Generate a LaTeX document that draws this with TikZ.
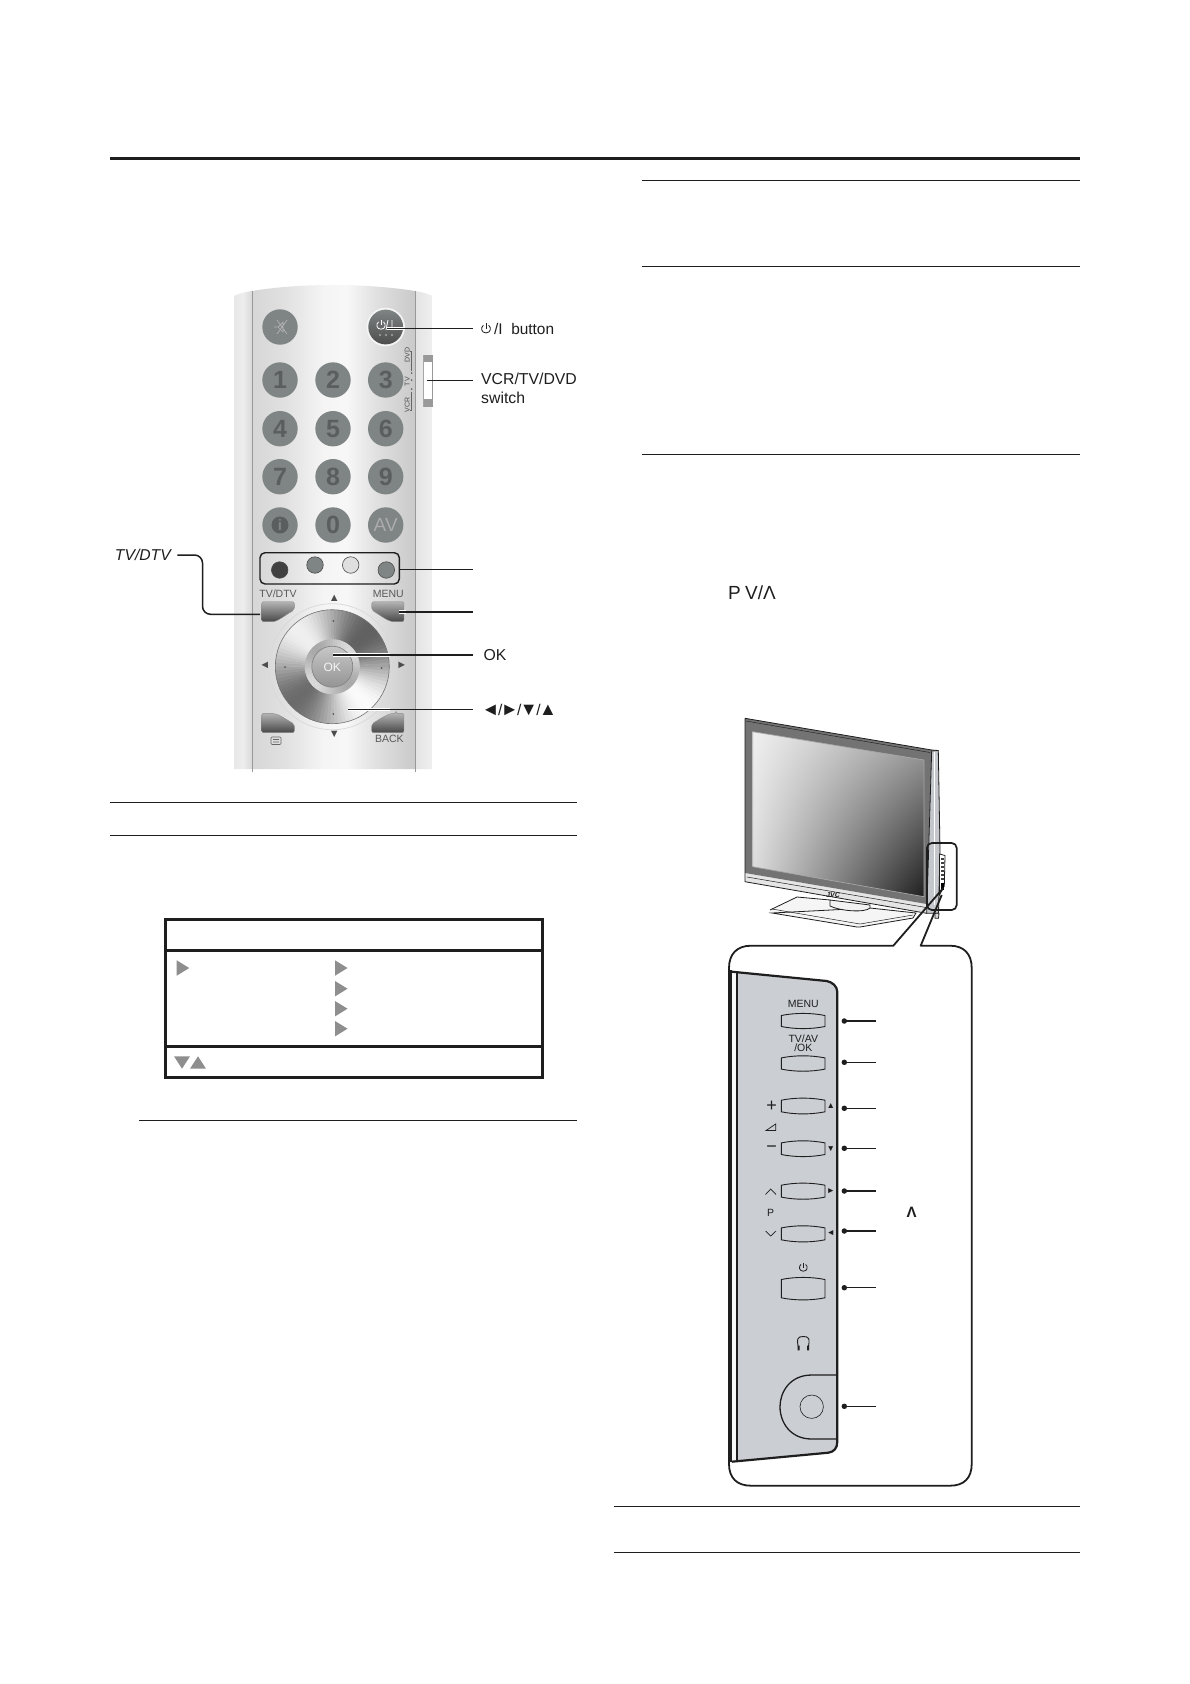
\documentclass[tikz,border=0pt]{standalone}
\usepackage{fontspec}
\setmainfont{Liberation Sans}
\usetikzlibrary{shadings,calc}
\definecolor{ink}{HTML}{1E1E1E}
\definecolor{keyg}{HTML}{7F8484}
\definecolor{keyd}{HTML}{5A5E5E}
\definecolor{panelg}{HTML}{CBCED3}
\definecolor{trig}{HTML}{8E8E8E}
\definecolor{sideg}{HTML}{C4C8CC}
\pgfdeclarehorizontalshading{remotebody}{100bp}{
 color(0bp)=(gray!32!white); color(25bp)=(gray!32!white);
 color(35bp)=(gray!24!white); color(47bp)=(gray!8!white); color(54bp)=(gray!6!white);
 color(63bp)=(gray!24!white); color(75bp)=(gray!42!white); color(100bp)=(gray!42!white)}
\pgfdeclarehorizontalshading{bandl}{100bp}{
 color(0bp)=(gray!18!white); color(25bp)=(gray!18!white); color(50bp)=(gray!14!white);color(75bp)=(gray!30!white); color(100bp)=(gray!30!white)}
\tikzset{
 rulethin/.style={draw=ink,line width=1.1pt},
 ruletable/.style={draw=ink,line width=3pt},
 lead/.style={draw=ink,line width=1.5pt},
 halo/.style={draw=white,line width=3.4pt},
 rlabel/.style={inner sep=0pt,anchor=west,font=\fontsize{15.8}{18}\selectfont,text=ink},
 keybtn/.style={circle,fill=keyg,minimum size=35.4pt,inner sep=0pt,text=keyd,font=\fontsize{25}{25}\selectfont\bfseries},
 colbtn/.style={circle,draw=black!70,line width=.6pt,minimum size=16.5pt,inner sep=0pt},
 tiny/.style={inner sep=0pt,text=black!65,font=\fontsize{10.5}{11}\selectfont},
 softkey/.style={shading angle=60,top color=gray!60!white,bottom color=black!72,draw=black!45,line width=.4pt,rounded corners=2pt},
 softkeyb/.style={shading angle=-60,top color=gray!60!white,bottom color=black!72,draw=black!45,line width=.4pt,rounded corners=2pt},
 pbtn/.style={draw=ink,line width=.9pt,fill=panelg},
 plabel/.style={inner sep=0pt,text=ink,font=\fontsize{10.5}{11}\selectfont},
 pdot/.style={circle,fill=ink,inner sep=0pt,minimum size=5.5pt},
 pline/.style={draw=ink,line width=1.4pt},
 tritab/.style={fill=trig},
 tvline/.style={draw=ink,line width=.8pt},
}
\newcommand{\pwrsym}[3]{%
 \draw[line width=.8pt,#3] ($(#1)+(-.62*#2,-.78*#2)$) .. controls ($(#1)+(-1.3*#2,-.3*#2)$) and ($(#1)+(-1.2*#2,1.05*#2)$) .. ($(#1)+(0,1.05*#2)$)
   .. controls ($(#1)+(1.2*#2,1.05*#2)$) and ($(#1)+(1.3*#2,-.3*#2)$) .. ($(#1)+(.62*#2,-.78*#2)$);
 \draw[line width=.8pt,#3] ($(#1)+(0,-1.25*#2)$) -- ($(#1)+(0,.1*#2)$);}
\newcommand{\panelkey}[2]{%
 \draw[pbtn] (781.3,#1+2.2) .. controls (795,#1-.6) and (811,#1-.6) .. (825,#1+2.2) -- (825,#2-2.2)
  .. controls (811,#2+.6) and (795,#2+.6) .. (781.3,#2-2.2) -- cycle;}
\begin{document}
\begin{tikzpicture}[x=1pt,y=-1pt]
\useasboundingbox (0,0) rectangle (1190,1684);
\fill[white] (0,0) rectangle (1190,1684);
% page rules
\draw[ink,line width=3pt] (110,158) -- (1080,158);
\foreach \xa/\xb/\yy in {642/1080/180.5,642/1080/266.5,642/1080/454.5,110/577/802.3,110/577/835.3,139/577/1120.3,614/1080/1506.3,614/1080/1552.3}
 \draw[rulethin] (\xa,\yy) -- (\xb,\yy);
% ---------- remote body
\shade[shading=remotebody] (252,291) .. controls (300,283) and (365,283) .. (415,291) -- (415,769) -- (252,769) -- cycle;
\shade[shading=bandl] (234,296) .. controls (238,294) and (245,292) .. (252,291) -- (252,769) -- (234,769) -- cycle;
\shade[left color=gray!22!white,right color=gray!12!white] (415,291) .. controls (422,292) and (428,294) .. (432.7,296) -- (432.7,769) -- (415,769) -- cycle;
\draw[gray!80!white,line width=.9pt] (252,291) -- (252,772) (415,291) -- (415,772);
% keys
\node[keybtn] (kmute) at (280,327) {};
\draw[black!30,line width=.7pt] (274,327) -- (278,327) -- (283,322) -- (283,332) -- (278,327) (277,320) -- (287,334) (287,320) -- (277,334);
\node[circle,fill=white!92!gray,minimum size=38.5pt,inner sep=0pt] (kpowring) at (385.7,327) {};
\shade[top color=keyg,bottom color=black!70] (385.7,327) circle[radius=17.4pt];
\pwrsym{381,325}{4}{white!88}
\draw[white!88,line width=.8pt] (388,320) -- (386,330) (392,320) -- (392,330);
\foreach \xx in {380,386,392} \fill[black!35] (\xx,335) circle[radius=1.1pt];
\foreach \nn/\xx/\yy/\tt in {k1/280/380/1,k2/333/380/2,k3/385.7/380/3,k4/280/428.7/4,k5/333/428.7/5,k6/385.7/428.7/6,k7/280/476.7/7,k8/333/476.7/8,k9/385.7/476.7/9,k0/333/525/0}
 \node[keybtn] (\nn) at (\xx,\yy) {\tt};
\node[keybtn] (kinfo) at (280,525) {};
\fill[keyd] (280,525) circle[radius=8.5pt];
\node[inner sep=0pt,text=keyg,font=\fontsize{15}{15}\selectfont\bfseries] (kinfot) at (280,525) {i};
\node[keybtn,text=black!33,font=\fontsize{19}{19}\selectfont] (kav) at (385.7,525) {AV};
% colour keys
\draw[ink,line width=1.4pt,rounded corners=5pt] (260,552.7) rectangle (399.3,584);
\node[colbtn,fill=black!75] (cred) at (279.7,570) {};
\node[colbtn,fill=keyg] (cgreen) at (315,565) {};
\node[colbtn,fill=gray!25!white] (cyellow) at (350.7,565) {};
\node[colbtn,fill=keyg] (cblue) at (386.3,570) {};
% soft keys
\shade[softkey] (261.7,601.7) -- (294.3,601.7) -- (294.3,610) .. controls (285,615) and (278,621.7) .. (270,621.7) -- (261.7,621.7) -- cycle;
\shade[softkeyb] (371.7,601.7) -- (404,601.7) -- (404,621.7) -- (396,621.7) .. controls (388,621.7) and (380,615) .. (371.7,610) -- cycle;
\shade[softkey] (261.7,713.3) -- (270,713.3) .. controls (278,713.3) and (285,719) .. (294.3,724) -- (294.3,732.7) -- (261.7,732.7) -- cycle;
\shade[softkeyb] (396,713.3) -- (404,713.3) -- (404,732.7) -- (371.7,732.7) -- (371.7,724) .. controls (380,719) and (388,713.3) .. (396,713.3) -- cycle;
\node[tiny] (tkdtv) at (278,594) {TV/DTV};
\node[tiny] (tkmenu) at (388.3,594) {MENU};
\node[tiny] (tkback) at (389.3,739.3) {BACK};
\draw[black!60,line width=.6pt,rounded corners=1pt] (271,737) rectangle (281,744.5) (273,739.5) -- (279,739.5) (273,742) -- (279,742);
\foreach \nn/\xx/\yy/\tt in {aN/334.3/598.3/▲,aW/264.7/665.7/◄,aE/401.7/665.7/►,aS/334.3/734.3/▼}
 \node[inner sep=0pt,text=black!70,font=\fontsize{11}{11}\selectfont] (\nn) at (\xx,\yy) {\tt};
% d-pad
\coordinate (dp) at (332.3,666.7);
\draw[gray!30!white,line width=.7pt] (dp) circle[radius=63pt];
\foreach \a in {0,4,...,356}{
 \pgfmathsetmacro\g{0.68+0.28*cos(2*\a+270)+0.03*sin(\a)}
 \definecolor{dpc}{gray}{\g}
 \fill[dpc] (dp) -- +(\a:57) -- +(\a+4.6:57) -- cycle;}
\draw[black!55,line width=.6pt] (dp) circle[radius=57pt];
\foreach \a in {0,4,...,356}{
 \pgfmathsetmacro\g{0.76-0.10*cos(2*\a+270)}
 \definecolor{dpc}{gray}{\g}
 \fill[dpc] (dp) -- +(\a:27.5) -- +(\a+4.6:27.5) -- cycle;}
\shade[top color=black!22,bottom color=black!42] (dp) circle[radius=20.5pt];
\draw[black!50,line width=.6pt] (dp) circle[radius=20.5pt];
\node[inner sep=0pt,text=white!92!gray,font=\fontsize{12}{12}\selectfont] (tok) at (332.3,667.5) {OK};
\foreach \xx/\yy in {333.3/621,381.7/668,333.3/714,285/667}
 \fill[black!65] (\xx,\yy) circle[radius=1pt];
% switch
\fill[gray!80!white] (423.3,355) rectangle (432.7,406.7);
\fill[white] (424.3,362) rectangle (432.2,398.5);
\draw[gray!70!white,line width=.5pt] (423.3,355) -- (423.3,406.7);
\foreach \nn/\yy/\tt in {sd/355/DVD,st/381.7/TV,sv/405/VCR}
 \node[inner sep=0pt,rotate=90,text=black!70,font=\fontsize{7}{7}\selectfont] (\nn) at (407.3,\yy) {\tt};
\draw[black!60,line width=.5pt] (410,351) -- (411.7,351) -- (411.7,371) (411.7,392) -- (411.7,410) -- (410,410);
\fill[black!70] (411.7,373) circle[radius=.8pt] (411.7,380) circle[radius=.8pt] (411.7,389) circle[radius=.8pt];
% remote labels + leaders
\begin{scope}
\clip (440,300) rectangle (576,420);
\node[rlabel] (lvcr) at (481,378.7) {VCR/TV/DVD};
\node[rlabel] (lsw) at (481,398) {switch};
\end{scope}
\pwrsym{486,328.5}{4.2}{ink}
\node[rlabel,font=\fontsize{15.4}{18}\selectfont] (lbtn) at (494,328.5) {/I\hspace{8.5pt}button};
\node[rlabel] (lok) at (483.3,655) {OK};
\node[rlabel,font=\fontsize{18}{18}\selectfont] (larr) at (481.5,709.5) {◄\hspace{-1.5pt}{\fontsize{15.5}{18}\selectfont/}\hspace{-1.5pt}►\hspace{-1.5pt}{\fontsize{15.5}{18}\selectfont/}\hspace{-1.5pt}▼\hspace{-1.5pt}{\fontsize{15.5}{18}\selectfont/}\hspace{-1.5pt}▲};
\node[rlabel,anchor=east,font=\fontsize{15.7}{18}\selectfont\itshape] (ltv) at (171,555) {TV/DTV};
\coordinate (cpw) at (386.7,328.3); \coordinate (epw) at (473.3,328.3);
\coordinate (cvc) at (426.7,380.7); \coordinate (evc) at (473.3,380.7);
\coordinate (eco) at (473.3,569.3);
\coordinate (cme) at (399,612); \coordinate (eme) at (473.3,612);
\coordinate (cok) at (333.3,655); \coordinate (eok) at (473.3,655);
\coordinate (car) at (348.3,709.3); \coordinate (ear) at (473.3,709.3);
\coordinate (stv) at (177.3,555); \coordinate (ctv) at (260,614.3);
\draw[halo] (cpw) -- (405,328.3);
\draw[lead] (cpw) -- (epw);
\draw[lead] (cvc) -- (evc);
\draw[lead] (399.3,569.3) -- (eco);
\draw[halo] (cme) -- (406,612);
\draw[lead] (cme) -- (eme);
\draw[halo] (cok) -- (390,655);
\draw[lead] (cok) -- (eok);
\draw[halo] (car) -- (390,709.3);
\draw[lead] (car) -- (ear);
\draw[lead,rounded corners=8pt] (stv) -- (202.5,555) -- (202.5,614.3) -- (ctv);
% ---------- OSD table
\draw[ruletable] (165.5,919.5) rectangle (542.5,1077.2);
\draw[ruletable] (165.5,950.3) -- (542.5,950.3) (165.5,1046.3) -- (542.5,1046.3);
\foreach \xx/\yy in {176.7/968,335/968,335/988.7,335/1008.7,335/1028.7}
 \fill[tritab] (\xx,\yy-7.7) -- (\xx+12.5,\yy) -- (\xx,\yy+7.7) -- cycle;
\fill[tritab] (174,1056.3) -- (190,1056.3) -- (182,1068.7) -- cycle;
\fill[tritab] (190,1068.7) -- (206,1068.7) -- (198,1056.3) -- cycle;
% P V/A text
\node[inner sep=0pt,text=ink,anchor=west,font=\fontsize{19}{20}\selectfont] (tpva) at (728,592.5) {P\hspace{-1pt} V/Λ};
% ---------- television
\fill[white!92!gray] (770,910) -- (797,897) -- (870,908) -- (916,913) -- (913,918) -- (860,927) -- (857,927) -- (772,913) -- cycle;
\draw[tvline] (770,910) -- (797,897) -- (830,900) (870,908) -- (916,913) -- (913,918) -- (860,927) -- (857,927) -- (772,913) -- cycle;
\draw[tvline,line width=.5pt] (772,909) -- (860,924) -- (913,915);
\draw[tvline,fill=white!90!gray] (830,900) -- (830,906) .. controls (840,911) and (865,913) .. (870,908) -- (870,905) -- cycle;
\fill[sideg] (931,751) -- (938.3,750.5) -- (940,850) -- (938.5,913.3) -- (926.7,913.3) -- cycle;
\draw[tvline] (931,751) -- (938.3,750.5) -- (940,850) -- (938.5,913.3) -- (926.7,913.3);
\draw[white,line width=1pt] (934,752) -- (934,905);
\fill[white!90!black] (745,873) -- (926.7,904) -- (926.7,913.3) -- (745,881.7) -- cycle;
\draw[tvline,line width=.5pt] (747,877) -- (926,907.5);
\fill[black!55] (745,718.3) -- (931.7,750) -- (926.7,904) -- (745,873) -- cycle;
\draw[tvline] (745,718.3) -- (931.7,750) -- (938.3,750.5);
\draw[tvline] (745,718.3) -- (745,881.7) -- (926.7,913.3) -- (931.7,750);
\draw[black!85,line width=.5pt] (746,721) -- (930,752.5);
\begin{scope}
\clip (752.7,731.7) -- (924,760) -- (924,896.7) -- (752.7,866.7) -- cycle;
\shade[upper left=white!88!gray,upper right=black!35,lower left=white!70!gray,lower right=black!88] (752.7,731.7) rectangle (924,896.7);
\end{scope}
\draw[white!65!black,line width=.7pt] (752.7,731.7) -- (924,760) -- (924,896.7) -- (752.7,866.7) -- cycle;
\node[inner sep=0pt,text=ink,font=\fontsize{7}{7}\selectfont\bfseries\itshape] (tjvc) at (833,895.5) {JVC};
\fill[white] (939.5,854) -- (945,855.5) -- (944.3,886) -- (939.5,895) -- cycle;
\draw[tvline] (939.5,854) -- (945,855.5) -- (944.3,886) -- (939.5,895) -- cycle;
\foreach \yy in {858,862,866,870,874,878}
 \fill[black!75] (941,\yy) rectangle (943.8,\yy+1.8);
\fill[black] (941,883) rectangle (944.3,890);
\draw[tvline,fill=gray!30!white] (935,913.3) -- (939,913.3) -- (938.5,918.3) -- (935,918.3) -- cycle;
\draw[ink,line width=1.7pt,rounded corners=5pt] (926.9,843) rectangle (956.7,910);
% ---------- callout
\coordinate (tipa) at (943.3,888);
\coordinate (tipb) at (941.7,895);
\coordinate (cla) at (893.3,945.7);
\coordinate (clb) at (920.7,945.7);
\draw[ink,line width=1.8pt,line join=round] (tipa) -- (cla) -- (751,945.7) .. controls (737,945.7) and (729,954) .. (729,968) -- (729,1464) .. controls (729,1478) and (737,1485.7) .. (751,1485.7) -- (950,1485.7) .. controls (964,1485.7) and (971.7,1478) .. (971.7,1464) -- (971.7,968) .. controls (971.7,954) and (964,945.7) .. (950,945.7) -- (clb) -- (tipb);
% panel
\fill[panelg] (736,972) -- (826.7,981) .. controls (832,982) and (837.3,986) .. (837.3,992) -- (837.3,1441.7) .. controls (837.3,1448) and (834,1452) .. (828.3,1452.7) -- (736,1461.7) -- cycle;
\fill[white!85!panelg] (731,971.7) -- (737,972.3) -- (737,1461.2) -- (731,1461.7) -- cycle;
\draw[ink,line width=2.2pt] (731.7,971.7) -- (826.7,981) .. controls (832,982) and (837.3,986) .. (837.3,992) -- (837.3,1441.7) .. controls (837.3,1448) and (834,1452) .. (828.3,1452.7) -- (731.7,1461.7);
\draw[ink,line width=1.6pt] (736.7,972.3) -- (736.7,1461);
\draw[ink,line width=2.6pt] (730.2,970) -- (730.2,1462);
\panelkey{1013.3}{1028.7}
\panelkey{1055.7}{1071.3}
\panelkey{1098}{1114}
\panelkey{1140.7}{1156.7}
\panelkey{1183}{1199.3}
\panelkey{1225.7}{1242}
\panelkey{1277.3}{1300}
\node[plabel] (pmenu) at (803.3,1004) {MENU};
\node[plabel,align=center,font=\fontsize{10.5}{9}\selectfont] (ptvav) at (803.3,1043.5) {TV/AV\\/OK};
\node[plabel,font=\fontsize{18}{19}\selectfont] (pplus) at (771.7,1106) {+};
\node[plabel,font=\fontsize{18}{19}\selectfont] (pminus) at (771.7,1149) {−};
\node[plabel] (pp) at (770.7,1212.7) {P};
\draw[ink,line width=.7pt] (766,1130.5) -- (775.7,1124) -- (775.7,1130.5) -- cycle;
\draw[ink,line width=.7pt] (765.5,1194.5) -- (770.7,1189) -- (776,1194.5);
\draw[ink,line width=.7pt] (765.5,1231) -- (770.7,1236) -- (776,1231);
\foreach \nn/\yy/\tt in {mu/1106/▲,md/1149/▼,mr/1191/►,ml/1233.3/◄}
 \node[inner sep=0pt,text=ink,font=\fontsize{8.5}{9}\selectfont] (\nn) at (830.7,\yy) {\tt};
\pwrsym{803.3,1267.3}{3.7}{ink}
\draw[ink,line width=.9pt] (798.8,1349) .. controls (796,1338) and (798,1336.5) .. (803.3,1336.5) .. controls (808.6,1336.5) and (810.6,1338) .. (807.8,1349);
\fill[ink] (797.6,1345.5) rectangle (799.6,1350.3) (807,1345.5) rectangle (809,1350.3);
\draw[ink,line width=1.3pt] (836.6,1375) -- (811.7,1375) .. controls (790,1375) and (780,1392) .. (780,1406.7) .. controls (780,1422) and (790,1439) .. (811.7,1439) -- (836.6,1439);
\draw[ink,line width=.6pt] (811.7,1406.7) circle[radius=11.7pt];
\foreach \nn/\yy in {d1/1021,d2/1062.3,d3/1108.3,d4/1148.3,d5/1191,d6/1231,d7/1287.7,d8/1406.3}{
 \node[pdot] (\nn) at (844.3,\yy) {};
 \coordinate (e\nn) at (875.7,\yy);
 \draw[pline] (\nn.center) -- (e\nn);}
\node[inner sep=0pt,text=ink,font=\fontsize{15}{15}\selectfont\bfseries] (plam) at (911.7,1212.7) {Λ};
\end{tikzpicture}
\end{document}
